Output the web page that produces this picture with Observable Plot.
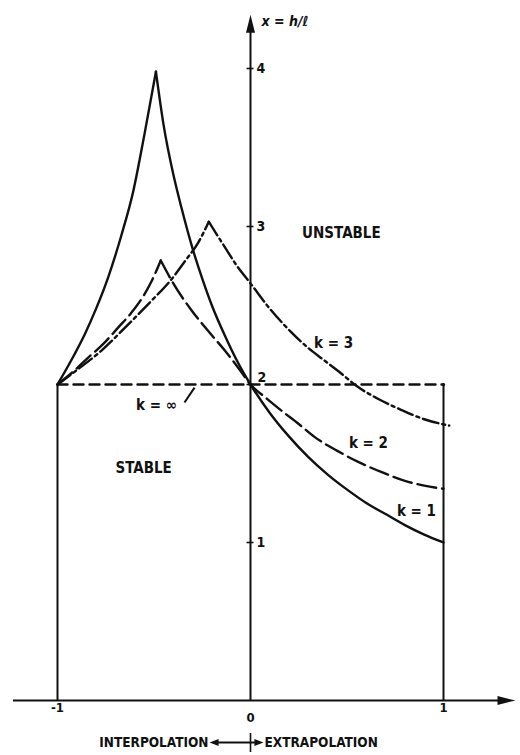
<!DOCTYPE html>
<html>
<head>
<meta charset="utf-8">
<script src="https://cdn.jsdelivr.net/npm/d3@7"></script>
<script src="https://cdn.jsdelivr.net/npm/@observablehq/plot@0.6"></script>
<style>
  html, body { margin: 0; padding: 0; background: #ffffff; }
  #chart svg { display: block; }
</style>
</head>
<body>
<div id="chart"></div>
<script>
// ---- Data (horizontal: interpolation/extrapolation parameter, vertical: χ = h/ℓ) ----
const k1LeftX  = [-1, -0.93, -0.858, -0.8, -0.737, -0.67, -0.608, -0.55, -0.49];
const k1LeftY  = [2, 2.15, 2.32, 2.48, 2.68, 2.94, 3.22, 3.58, 3.98];
const k1RightX = [-0.49, -0.45, -0.4, -0.358, -0.3, -0.25, -0.2, -0.133, -0.07, 0, 0.1, 0.2, 0.3, 0.4, 0.506, 0.6, 0.7, 0.8, 0.9, 1];
const k1RightY = [3.98, 3.64, 3.33, 3.12, 2.86, 2.67, 2.5, 2.31, 2.15, 2, 1.82, 1.67, 1.54, 1.43, 1.33, 1.25, 1.18, 1.11, 1.05, 1.0];

const k2LeftX  = [-1, -0.92, -0.841, -0.76, -0.686, -0.62, -0.56, -0.51, -0.465];
const k2LeftY  = [2, 2.08, 2.17, 2.26, 2.36, 2.45, 2.55, 2.66, 2.785];
const k2RightX = [-0.465, -0.4, -0.306, -0.22, -0.133, -0.06, 0, 0.08, 0.16, 0.25, 0.333, 0.45, 0.558, 0.68, 0.8, 0.9, 1];
const k2RightY = [2.785, 2.64, 2.47, 2.34, 2.215, 2.1, 2, 1.915, 1.835, 1.75, 1.667, 1.58, 1.51, 1.445, 1.39, 1.36, 1.34];

const k3LeftX  = [-1, -0.89, -0.772, -0.65, -0.513, -0.42, -0.34, -0.27, -0.216];
const k3LeftY  = [2, 2.1, 2.215, 2.36, 2.53, 2.65, 2.78, 2.9, 3.03];
const k3RightX = [-0.216, -0.17, -0.133, -0.07, 0, 0.1, 0.212, 0.3, 0.385, 0.47, 0.55, 0.66, 0.78, 0.9, 1.03];
const k3RightY = [3.03, 2.94, 2.87, 2.75, 2.64, 2.48, 2.33, 2.23, 2.15, 2.07, 1.99, 1.91, 1.84, 1.78, 1.74];

const kInfX = [-1, 1];
const kInfY = [2, 2];

const boundaryX = [-1, 1];           // vertical limits of the region
const yTicks = [1, 2, 3, 4];
const yTickLabels = ["1", "2", "3", "4"];
const xTicks = [-1, 0, 1];
const xTickLabels = ["-1", "0", "1"];

// annotation texts (data-unit anchors)
const labelTexts = ["k = 3", "k = 2", "k = 1", "k = ∞", "UNSTABLE", "STABLE"];
const labelX = [0.43, 0.611, 0.86, -0.487, 0.471, -0.554];
const labelY = [2.26, 1.627, 1.20, 1.867, 2.956, 1.468];

// ---- build tables ----
const seg = (name, xs, ys) => xs.map((x, i) => ({series: name, x, y: ys[i]}));
const k1 = [...seg("k1a", k1LeftX, k1LeftY), ...seg("k1b", k1RightX, k1RightY)];
const k2 = [...seg("k2a", k2LeftX, k2LeftY), ...seg("k2b", k2RightX, k2RightY)];
const k3 = [...seg("k3a", k3LeftX, k3LeftY), ...seg("k3b", k3RightX, k3RightY)];
const kInf = seg("kinf", kInfX, kInfY);
const labels = labelTexts.map((t, i) => ({t, x: labelX[i], y: labelY[i]}));
const yt = yTicks.map((v, i) => ({v, t: yTickLabels[i]}));
const xt = xTicks.map((v, i) => ({v, t: xTickLabels[i]}));

const INK = "#111";
const FONT = "'DejaVu Sans Condensed', 'Liberation Sans Narrow', sans-serif";

// arrowhead symbols (tip at origin, pointing up)
const bigHead = {draw(c) { c.moveTo(0, 0); c.lineTo(-4.5, 18); c.lineTo(4.5, 18); c.closePath(); }};
const smallHead = {draw(c) { c.moveTo(0, 0); c.lineTo(-3.5, 9); c.lineTo(3.5, 9); c.closePath(); }};

const lineOpts = {x: "x", y: "y", z: "series", curve: "monotone-x", stroke: INK, strokeWidth: 2.4};
const txt = {fill: INK, fontFamily: FONT, fontWeight: "bold"};

const chart = Plot.plot({
  width: 520,
  height: 755,
  margin: 0,
  style: {background: "#ffffff", fontFamily: FONT},
  x: {domain: [-1, 1], range: [57, 443], axis: null},
  y: {domain: [0, 4], range: [700, 68], axis: null},
  marks: [
    // axes
    Plot.ruleY([0], {x1: -1.228, x2: 1.30, stroke: INK, strokeWidth: 2}),
    Plot.ruleX([0], {y1: 0, y2: 4.25, stroke: INK, strokeWidth: 2}),
    Plot.dot([{x: 1.373, y: 0}], {x: "x", y: "y", symbol: bigHead, rotate: 90, fill: INK, stroke: "none"}),
    Plot.dot([{x: 0, y: 4.34}], {x: "x", y: "y", symbol: bigHead, fill: INK, stroke: "none"}),
    // y ticks
    Plot.ruleY(yTicks, {x1: -0.018, x2: 0.018, stroke: INK, strokeWidth: 1.6}),
    Plot.text(yt.filter(d => d.v !== 2), {x: 0, y: "v", text: "t", dx: 6, textAnchor: "start", fontSize: 14, ...txt}),
    Plot.text(yt.filter(d => d.v === 2), {x: 0, y: "v", text: "t", dx: 7, dy: -7, textAnchor: "start", fontSize: 14, ...txt}),
    // x tick labels
    Plot.text(xt.filter(d => d.v !== 0), {x: "v", y: 0, text: "t", dy: 2, lineAnchor: "top", textAnchor: "middle", fontSize: 13, ...txt}),
    Plot.text(xt.filter(d => d.v === 0), {x: "v", y: 0, text: "t", dy: 12, lineAnchor: "top", textAnchor: "middle", fontSize: 13, ...txt}),
    // region boundaries
    Plot.ruleX(boundaryX, {y1: 0, y2: 2, stroke: INK, strokeWidth: 2}),
    // k = ∞
    Plot.line(kInf, {...lineOpts, curve: "linear", strokeDasharray: "10,6"}),
    Plot.dot([{x: 1, y: 2}], {x: "x", y: "y", r: 1.6, fill: INK}),
    // k = 1, 2, 3
    Plot.line(k1, lineOpts),
    Plot.line(k2, {...lineOpts, strokeDasharray: "19,6"}),
    Plot.line(k3, {...lineOpts, strokeDasharray: "16,4,3,4"}),
    // pointer for k = ∞
    Plot.link([{x1: -0.342, y1: 1.886, x2: -0.29, y2: 1.98}], {x1: "x1", y1: "y1", x2: "x2", y2: "y2", stroke: INK, strokeWidth: 2}),
    // labels
    Plot.text(labels, {x: "x", y: "y", text: "t", textAnchor: "middle", fontSize: 15, ...txt}),
    // axis title
    Plot.text(["x = h/ℓ"], {x: 0, y: 4.34, text: d => d, dx: 11, dy: 7, textAnchor: "start", fontSize: 14, fontStyle: "italic", ...txt}),
    // interpolation / extrapolation legend
    Plot.text(["INTERPOLATION"], {x: 0, y: -0.266, text: d => d, dx: -42, textAnchor: "end", fontSize: 13.5, ...txt}),
    Plot.text(["EXTRAPOLATION"], {x: 0, y: -0.266, text: d => d, dx: 14, textAnchor: "start", fontSize: 13.5, ...txt}),
    Plot.ruleY([-0.266], {x1: -0.19, x2: 0.035, stroke: INK, strokeWidth: 2}),
    Plot.ruleX([0], {y1: -0.209, y2: -0.329, stroke: INK, strokeWidth: 1.6}),
    Plot.dot([{x: -0.212, y: -0.266}], {x: "x", y: "y", symbol: smallHead, rotate: -90, fill: INK, stroke: "none"}),
    Plot.dot([{x: 0.067, y: -0.266}], {x: "x", y: "y", symbol: smallHead, rotate: 90, fill: INK, stroke: "none"})
  ]
});
document.getElementById("chart").appendChild(chart);
</script>
</body>
</html>
